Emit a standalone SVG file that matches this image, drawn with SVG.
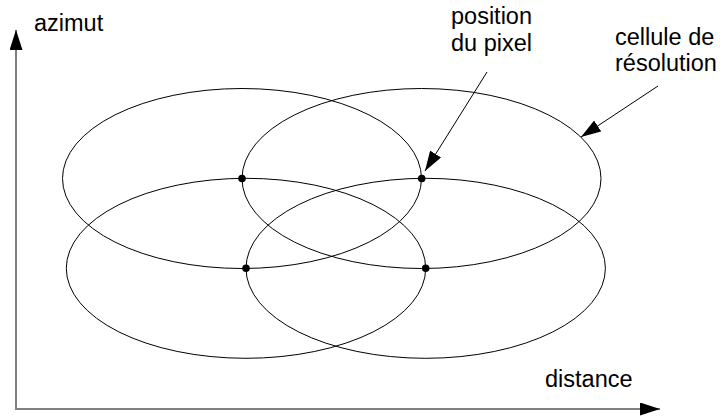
<svg xmlns="http://www.w3.org/2000/svg" width="725" height="416" viewBox="0 0 725 416">
<style>
.cell{fill:none;stroke:#000;stroke-width:1}
.dot{fill:#000}
.axis{stroke:#808080;stroke-width:2;fill:none}
.lead{stroke:#000;stroke-width:1;fill:none}
.lbl{font-family:"Liberation Sans",Arial,sans-serif;font-size:23.5px;fill:#000}
</style>
<defs>
<marker id="ah" viewBox="0 0 20 13" refX="20" refY="6.5" markerWidth="20" markerHeight="13" markerUnits="userSpaceOnUse" orient="auto">
<path d="M0,0 L20,6.5 L0,13 Z" fill="#000"/>
</marker>
<marker id="axh" viewBox="0 0 20 13" refX="20" refY="6.5" markerWidth="20" markerHeight="13" markerUnits="userSpaceOnUse" orient="auto">
<path d="M0,0 L20,6.5 L0,13 Z" fill="#000"/>
</marker>
</defs>
<g id="axes">
<path class="axis" d="M16,409 L16,30" marker-end="url(#axh)"/>
<path class="axis" d="M15,409 L660,409" marker-end="url(#axh)"/>
<text class="lbl" x="34" y="31">azimut</text>
<text class="lbl" x="545" y="387">distance</text>
</g>
<g id="cell-top-left"><ellipse class="cell" cx="242" cy="178.5" rx="179.5" ry="90"/></g>
<g id="cell-top-right"><ellipse class="cell" cx="421.5" cy="178.5" rx="179.5" ry="90"/></g>
<g id="cell-bottom-left"><ellipse class="cell" cx="246" cy="268.3" rx="179.7" ry="90"/></g>
<g id="cell-bottom-right"><ellipse class="cell" cx="425.7" cy="268.3" rx="179.7" ry="90"/></g>
<g id="pixels">
<circle class="dot" cx="242" cy="178.5" r="3.8"/>
<circle class="dot" cx="421.7" cy="178.5" r="3.8"/>
<circle class="dot" cx="246" cy="268.3" r="3.8"/>
<circle class="dot" cx="425.7" cy="268.3" r="3.8"/>
</g>
<g id="label-pixel">
<text class="lbl" x="451" y="24">position</text>
<text class="lbl" x="451" y="50.5">du pixel</text>
</g>
<g id="label-cell">
<text class="lbl" x="615" y="44.5">cellule de</text>
<text class="lbl" x="615" y="71">résolution</text>
</g>
<g id="connectors">
<path class="lead" d="M487,72 L425,171" marker-end="url(#ah)"/>
<path class="lead" d="M658,86 L581,137" marker-end="url(#ah)"/>
</g>
</svg>
